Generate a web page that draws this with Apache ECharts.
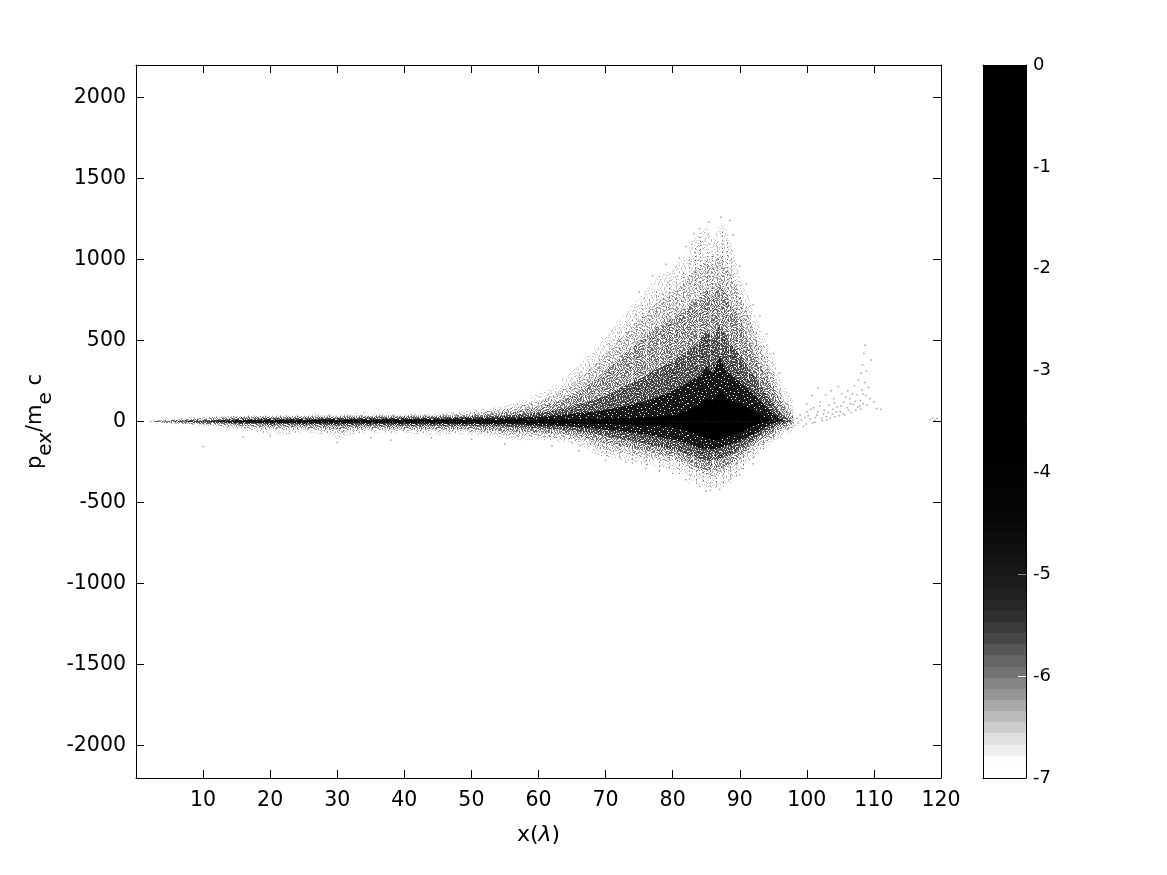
<!DOCTYPE html>
<html>
<head>
<meta charset="utf-8">
<script src="https://cdn.jsdelivr.net/npm/echarts@6/dist/echarts.min.js"></script>
<style>html,body{margin:0;padding:0;background:#fff}#c{width:1167px;height:875px}</style>
</head>
<body>
<div id="c"></div>
<script>
// x positions (lambda) of the density envelopes
var xGrid = [2,4,6,8,10,12,14,16,18,20,22,24,26,28,30,32,34,36,38,40,42,44,46,48,50,52,54,56,58,
  60,61,62,63,64,65,66,67,68,69,70,71,72,73,74,75,76,77,78,79,80,81,82,83,84,85,86,87,88,89,90,91,92,93,94,95,96,97,98];

// upper envelopes, outermost (sparse) to innermost (black)
var upper1 = [4,10,18,26,30,34,38,40,40,42,42,44,42,46,44,46,60,50,46,48,50,50,54,60,70,80,90,110,140,
  170,190,215,245,275,310,350,395,440,480,530,580,630,680,720,760,810,860,900,920,950,990,1040,1130,1150,1210,1120,1240,1180,1060,900,800,680,580,490,400,280,200,130];
var upper2 = [2,7,13,20,24,28,32,34,34,36,36,36,36,38,38,38,40,40,40,40,42,42,44,48,55,62,72,85,105,
  125,140,160,180,205,235,265,300,340,380,420,465,510,550,590,630,670,710,745,770,800,830,870,930,950,1000,960,1040,960,880,780,680,570,470,370,280,190,120,60];
var upper3 = [1,6,10,13,16,20,24,26,26,28,28,30,30,30,30,32,32,32,32,34,34,34,36,38,42,46,54,62,75,
  90,100,112,128,145,165,190,215,245,275,310,350,390,425,460,495,530,565,590,615,640,670,700,740,760,810,760,860,780,700,640,530,440,350,280,200,130,70,25];
var upper4 = [0,2,4,6,8,10,14,18,18,20,20,20,20,22,22,22,24,24,24,24,24,26,26,28,30,32,36,40,46,
  55,60,66,74,82,92,104,116,130,145,160,180,200,220,240,260,285,310,330,350,375,400,430,460,490,560,510,600,520,460,410,350,290,230,170,110,55,20,0];
var upper5 = [0,0,0,2,2,4,8,10,10,12,12,12,12,14,14,14,14,14,16,16,16,16,18,18,20,20,22,24,26,
  30,33,36,40,44,48,52,56,60,66,72,80,88,96,105,115,125,140,155,170,190,210,235,260,280,340,300,400,310,280,240,210,170,130,90,50,15,0,0];
var upper6 = [0,0,0,0,0,0,3,5,5,6,6,6,7,7,7,8,8,8,8,8,8,9,9,9,10,10,10,11,12,
  13,13,14,14,15,15,16,16,17,17,18,19,20,21,22,24,26,28,30,34,40,50,65,85,110,140,125,190,150,125,110,90,70,45,20,6,0,0,0];

// lower envelopes
var lower1 = [-4,-10,-16,-22,-28,-36,-45,-55,-65,-80,-80,-70,-70,-80,-110,-90,-70,-70,-75,-70,-80,-90,-80,-80,-85,-90,-100,-110,-115,
  -110,-115,-120,-125,-130,-140,-150,-165,-195,-210,-220,-225,-235,-240,-255,-265,-270,-275,-285,-300,-290,-310,-330,-370,-390,-400,-420,-395,-385,-360,-310,-270,-230,-190,-160,-130,-100,-80,-60];
var lower2 = [-2,-6,-12,-16,-20,-26,-34,-40,-45,-50,-50,-50,-52,-60,-72,-60,-55,-55,-55,-58,-60,-62,-62,-62,-65,-70,-78,-85,-90,
  -90,-95,-98,-102,-105,-112,-120,-130,-150,-165,-175,-182,-190,-195,-205,-215,-220,-225,-232,-245,-240,-255,-275,-300,-320,-330,-340,-320,-310,-290,-250,-215,-185,-150,-125,-100,-75,-55,-35];
var lower3 = [-1,-6,-9,-12,-15,-18,-22,-28,-32,-35,-35,-35,-38,-42,-48,-42,-40,-40,-42,-42,-44,-46,-46,-46,-48,-52,-58,-62,-65,
  -68,-70,-73,-76,-78,-84,-90,-100,-112,-125,-135,-142,-150,-155,-165,-175,-180,-190,-200,-210,-215,-230,-250,-275,-290,-300,-300,-290,-275,-250,-215,-180,-145,-115,-90,-70,-50,-30,-15];
var lower4 = [0,-1,-3,-5,-7,-9,-12,-15,-17,-20,-20,-20,-20,-22,-24,-24,-24,-24,-24,-26,-26,-26,-26,-28,-28,-30,-32,-35,-38,
  -42,-44,-46,-48,-52,-56,-60,-66,-72,-80,-88,-95,-105,-112,-120,-130,-140,-150,-158,-165,-175,-185,-200,-215,-230,-240,-240,-230,-215,-195,-170,-145,-115,-90,-65,-40,-18,-5,0];
var lower5 = [0,0,0,-1,-2,-3,-6,-8,-9,-10,-10,-11,-12,-12,-12,-12,-13,-13,-13,-14,-14,-14,-14,-15,-15,-16,-17,-18,-20,
  -24,-25,-27,-28,-30,-32,-35,-38,-42,-46,-50,-55,-60,-65,-70,-76,-82,-90,-97,-105,-112,-122,-135,-150,-165,-172,-172,-165,-150,-135,-120,-100,-80,-55,-30,-12,0,0,0];
var lower6 = [0,0,0,0,0,0,-2,-3,-3,-4,-4,-4,-5,-5,-5,-5,-6,-6,-6,-6,-6,-6,-7,-7,-7,-8,-8,-8,-9,
  -10,-10,-11,-11,-12,-12,-13,-14,-15,-16,-16,-17,-18,-19,-20,-22,-24,-27,-30,-35,-40,-48,-58,-70,-85,-105,-115,-110,-100,-85,-70,-52,-30,-12,0,0,0,0,0];

// vertical streaks of dark cells read from the plume: [x, pFrom, pTo]
var darkStreaks = [
  [66,60,300],[67.5,70,360],[69,80,420],[70.5,80,500],[72,100,560],[73,100,610],[74.5,110,680],[75.5,120,720],[76.5,130,770],[77.5,130,820],
  [78.5,140,800],[79.5,150,870],[80.5,160,880],[81.5,170,930],[82.5,180,1000],[83.3,200,1080],[84.1,220,1160],[85.1,250,1060],[85.9,250,1030],[86.6,260,1100],
  [87.4,300,1190],[88.1,280,1120],[88.7,260,1020],[89.4,220,850],[90.2,200,760],[90.9,180,720],[91.6,160,640],[92.4,120,560],[93.2,90,470],[94,70,400],[95,40,300],[96,20,200],
  [70,-60,-230],[72,-70,-240],[74,-80,-260],[76,-90,-280],[78,-100,-300],[79.5,-110,-290],[81,-120,-330],[82.5,-130,-380],[83.5,-130,-400],[84.5,-140,-370],
  [85.5,-150,-430],[86.5,-150,-410],[87.5,-150,-400],[88.5,-130,-380],[89.5,-110,-340],[90.5,-90,-300],[92,-70,-240],[93.5,-40,-180],[95,-30,-130]
];
// vertical gaps between the streaks: [x, pFrom, pTo]
var lightStreaks = [
  [72,230,420],[74,240,480],[76,260,520],[78,300,620],[80,330,700],[82,340,760],[83.8,350,850],[85.5,350,800],[87,420,800],[88.4,380,860],[89.8,330,700],[91.2,260,560],[92.8,180,420],
  [80,-170,-260],[83,-190,-300],[86,-200,-320],[89,-170,-280]
];

// isolated faint particles read from the outer fringe: [x, p]
var fringePoints = [
  [98.5,20],[99,40],[99.5,-30],[100,60],[100,110],[100.5,15],[100.8,160],[101,85],[101.2,-5],[101.5,40],[101.7,205],[102,120],[102.2,20],[102.6,70],[102.8,165],
  [103,10],[103.3,100],[103.6,190],[103.8,45],[104,140],[104.2,30],[104.5,90],[104.7,215],[105,60],[105.2,170],[105.5,120],[105.7,40],[106,85],[106.1,190],
  [106.4,140],[106.6,55],[106.9,105],[107.1,220],[107.3,70],[107.5,165],[107.7,255],[107.9,95],[108,130],[108.1,300],[108.2,195],[108.3,350],[108.4,110],[108.5,420],
  [108.6,240],[108.7,470],[108.8,160],[108.9,310],[109,100],[109.2,210],[109.4,140],[109.6,380],[110,120],[110.4,80],[111,75],
  [98.2,-25],[98.7,-10],[99.2,10],[99.7,25],[99.9,-15],[100.2,35],[100.6,75],[100.9,-10],[101.3,25],[101.6,60],[101.9,95],[102.3,5],[102.5,45],[102.9,30],[103.2,55],
  [103.5,20],[103.9,75],[104.1,115],[104.4,60],[104.8,35],[105.1,95],[105.4,50],[105.8,150],[106.2,70],[106.5,110],[106.8,170],[107.2,125],[107.6,90],[108.05,75],[108.35,170],
  [118.4,12],[118.8,22],[119.1,8],[119.4,18],
  [96,300],[95,420],[94,540],[93,650],[92,720],[91,850],[90,960],[89,1150],[88.5,1240],[87.2,1260],[85.4,1230],[84,1190],[83.2,1160],[82,1080],[81,1010],[79,970],[77,900],[75,800],
  [87,-420],[85,-430],[84,-400],[82,-360],[80,-320],[78,-305],[76,-290],[90,-330],[92,-260],
  [10,-155],[16,-95],[20,-90],[30,-130],[35,-100],[38,-115],[44,-100],[50,-110],[55,-140],[62,-150],[66,-180],[70,-240],[73,-250]
];

// colour bar grays from z = -7 upward, one per palette step (64 steps)
var colorbarGrays = [255,253,239,224,205,188,169,150,132,115,101,86,71,59,48,40,33,28,24,20,16,13,10,7,5,4,3,2,1,1,
  0,0,0,0,0,0,0,0,0,0,0,0,0,0,0,0,0,0,0,0,0,0,0,0,0,0,0,0,0,0,0,0,0,0];

var xTicks = [10,20,30,40,50,60,70,80,90,100,110,120];
var yTicks = [-2000,-1500,-1000,-500,0,500,1000,1500,2000];

// dither tile used as the fill texture of the envelopes
var speckleTile = [
"3a7f1c92e05b84d6","b05d8e36a7f12c94","6c19f4b2083ed75a","e872a05dc6b9341f",
"14bd63f97ea2058c","9f05c28ab1d4e673","a37e1b04f6859cd2","5d8c96e23b70af14",
"02f7ab5c94e1d638","c6491d70e85f2ab3","7be2058f3ac6194d","38a1c6d4927be0f5",
"f4d6903be1a5728c","819e72c5d03f6ba4","2c5b04a8f96d13e7","d07348e1ba2c96f5"];

function tileDigit(r, c) {
  // quadrants of a 32 px tile: the 16 px tile, its transpose and mirrors
  var R = r % 16, C = c % 16, q = (r >= 16 ? 2 : 0) + (c >= 16 ? 1 : 0);
  var ch = q === 0 ? speckleTile[R][C] : q === 1 ? speckleTile[C][R] : q === 2 ? speckleTile[15 - C][R] : speckleTile[R][15 - C];
  return parseInt(ch, 16);
}
function tileFill(limit, base, step) {
  var cv = document.createElement('canvas');
  cv.width = 32; cv.height = 32;
  var g = cv.getContext('2d');
  for (var r = 0; r < 32; r++) for (var c = 0; c < 32; c++) {
    var d = tileDigit(r, c);
    if (d < limit) {
      var v = base + d * step;
      g.fillStyle = 'rgb(' + v + ',' + v + ',' + v + ')';
      g.fillRect(c, r, 1, 1);
    }
  }
  return { image: cv, repeat: 'repeat' };
}

var bandFills = [
  tileFill(3, 175, 20),
  tileFill(6, 125, 14),
  tileFill(9, 85, 8),
  tileFill(13, 40, 6),
  tileFill(15, 10, 2),
  '#000000'
];
var uppers = [upper1, upper2, upper3, upper4, upper5, upper6];
var lowers = [lower1, lower2, lower3, lower4, lower5, lower6];

function zipX(vals) { return xGrid.map(function (x, i) { return [x, vals[i]]; }); }

function streakSeries(list, color, dash, z) {
  return {
    type: 'custom', xAxisIndex: 0, yAxisIndex: 0, silent: true, animation: false, z: z,
    data: list,
    encode: { x: 0, y: [1, 2] },
    renderItem: function (params, api) {
      var a = api.coord([api.value(0), api.value(1)]);
      var b = api.coord([api.value(0), api.value(2)]);
      var x = Math.round(a[0]) + 0.5;
      return { type: 'line', shape: { x1: x, y1: a[1], x2: x, y2: b[1] },
        style: { stroke: color, lineWidth: 1, lineDash: dash } };
    }
  };
}

var series = [];
uppers.concat(lowers).forEach(function (vals, i) {
  var band = i % 6;
  series.push({
    type: 'line', xAxisIndex: 0, yAxisIndex: 0, data: zipX(vals),
    showSymbol: false, silent: true, lineStyle: { width: 0 },
    areaStyle: { origin: 0, color: bandFills[band], opacity: 1 },
    z: 2 + band, animation: false
  });
});
series.push(streakSeries(lightStreaks, '#ffffff', [3, 2], 5));
series.push(streakSeries(darkStreaks, '#5a5a5a', [1, 3], 5));
series.push({
  type: 'scatter', xAxisIndex: 0, yAxisIndex: 0, data: fringePoints,
  symbol: 'rect', symbolSize: [1.5, 1.5], itemStyle: { color: '#8c8c8c' }, silent: true, z: 9, animation: false
});

// colour bar
series.push({
  type: 'custom', xAxisIndex: 2, yAxisIndex: 2, silent: true, animation: false, z: 2,
  data: colorbarGrays.map(function (g, i) { return [i, g]; }),
  renderItem: function (params, api) {
    var i = api.value(0), g = api.value(1), n = colorbarGrays.length;
    var a = api.coord([0, -7 + 7 * i / n]);
    var b = api.coord([1, -7 + 7 * (i + 1) / n]);
    var y0 = Math.round(b[1]), y1 = Math.round(a[1]);
    return { type: 'rect', shape: { x: Math.round(a[0]), y: y0, width: Math.round(b[0] - a[0]), height: y1 - y0 },
      style: { fill: 'rgb(' + g + ',' + g + ',' + g + ')' } };
  },
  encode: { x: 0, y: 1 }
});
// colour bar ticks visible on the dark ramp
series.push({
  type: 'custom', xAxisIndex: 2, yAxisIndex: 2, silent: true, animation: false, z: 5,
  data: [[-6, 255], [-5, 140]],
  renderItem: function (params, api) {
    var z = api.value(0), g = api.value(1);
    var p = api.coord([1, z]);
    var y = Math.round(p[1]) + 0.5;
    return { type: 'line', shape: { x1: p[0] - 8, y1: y, x2: p[0], y2: y },
      style: { stroke: 'rgb(' + g + ',' + g + ',' + g + ')', lineWidth: 1 } };
  },
  encode: { x: 0, y: 0 }
});

var FONT = '"DejaVu Sans"';
var lineBlack = { show: true, onZero: false, lineStyle: { color: '#000', width: 1 } };
var tickIn = function (vals) { return { show: true, inside: true, length: 8, customValues: vals, lineStyle: { color: '#000', width: 1 } }; };
var plain = function (v) { return String(v); };

var option = {
  backgroundColor: '#fff',
  animation: false,
  grid: [
    { left: 136, top: 65, width: 805, height: 713, show: false },
    { left: 983, top: 65, width: 43, height: 713, show: false }
  ],
  xAxis: [
    { type: 'value', gridIndex: 0, min: 0, max: 120, position: 'bottom', z: 20, splitLine: { show: false }, axisLine: lineBlack, axisTick: tickIn(xTicks),
      axisLabel: { customValues: xTicks, formatter: plain, color: '#000', fontFamily: FONT, fontSize: 20.5, margin: 12 },
      name: '{a|x(}{l|λ}{a|)}', nameLocation: 'middle', nameGap: 46,
      nameTextStyle: { rich: { a: { fontFamily: FONT, fontSize: 22, color: '#000' }, l: { fontFamily: FONT, fontStyle: 'italic', fontSize: 22, color: '#000' } } } },
    { type: 'value', gridIndex: 0, min: 0, max: 120, position: 'top', z: 20, splitLine: { show: false }, axisLine: lineBlack, axisTick: tickIn(xTicks), axisLabel: { show: false } },
    { type: 'value', gridIndex: 1, min: 0, max: 1, show: false, splitLine: { show: false } },
    { type: 'value', gridIndex: 1, min: 0, max: 1, position: 'bottom', z: 20, axisLine: lineBlack, axisTick: { show: false }, axisLabel: { show: false }, splitLine: { show: false } },
    { type: 'value', gridIndex: 1, min: 0, max: 1, position: 'top', z: 20, axisLine: lineBlack, axisTick: { show: false }, axisLabel: { show: false }, splitLine: { show: false } }
  ],
  yAxis: [
    { type: 'value', gridIndex: 0, min: -2200, max: 2200, position: 'left', z: 20, splitLine: { show: false }, axisLine: lineBlack, axisTick: tickIn(yTicks),
      axisLabel: { customValues: yTicks, formatter: plain, color: '#000', fontFamily: FONT, fontSize: 20.5, margin: 10 },
      name: '{a|p}{s|ex}{a|/m}{s|e}{a| c}', nameLocation: 'middle', nameGap: 78, nameRotate: 90,
      nameTextStyle: { rich: {
        a: { fontFamily: FONT, fontSize: 21, color: '#000', lineHeight: 30, verticalAlign: 'top' },
        s: { fontFamily: FONT, fontSize: 20, color: '#000', lineHeight: 30, verticalAlign: 'bottom' } } } },
    { type: 'value', gridIndex: 0, min: -2200, max: 2200, position: 'right', z: 20, splitLine: { show: false }, axisLine: lineBlack, axisTick: tickIn(yTicks), axisLabel: { show: false } },
    { type: 'value', gridIndex: 1, min: -7, max: 0, interval: 1, position: 'right', z: 20, splitLine: { show: false },
      axisLine: lineBlack, axisTick: { show: false },
      axisLabel: { color: '#000', fontFamily: FONT, fontSize: 18, margin: 7 } },
    { type: 'value', gridIndex: 1, min: -7, max: 0, position: 'left', z: 20, axisLine: lineBlack, axisTick: { show: false }, axisLabel: { show: false }, splitLine: { show: false } }
  ],
  series: series
};

var chart = echarts.init(document.getElementById('c'), null, { renderer: 'canvas' });
chart.setOption(option);
</script>
</body>
</html>
